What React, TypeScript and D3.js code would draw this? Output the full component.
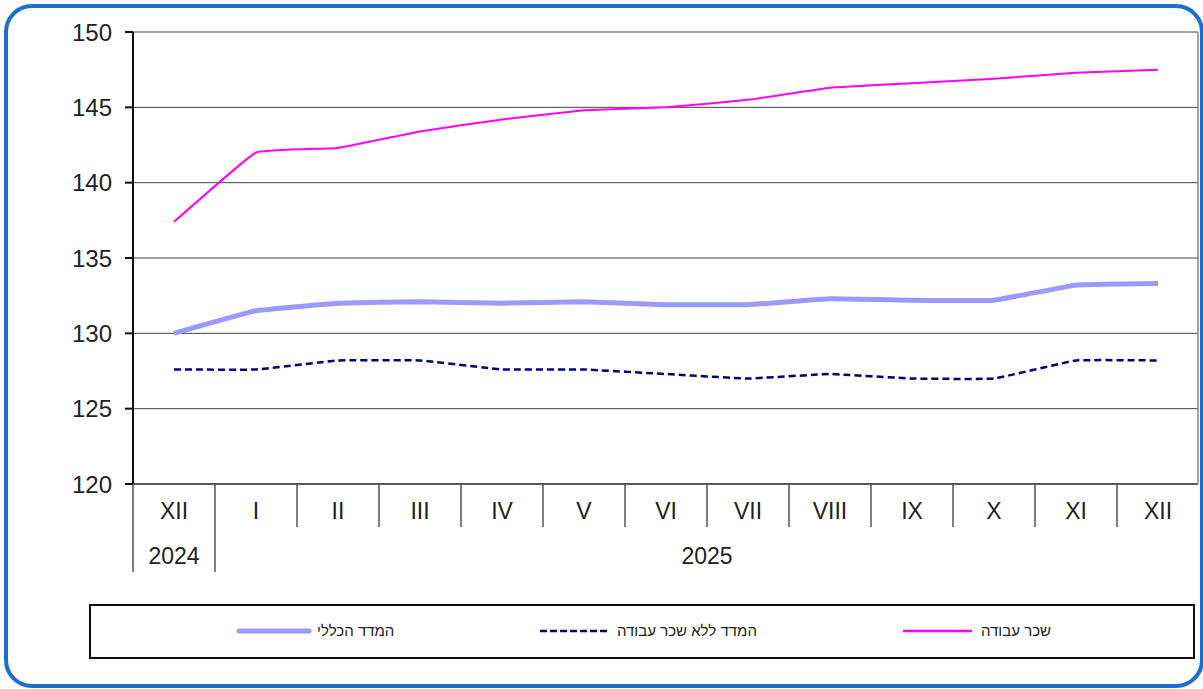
import React from "react";
import * as d3 from "d3";

const months = ["XII", "I", "II", "III", "IV", "V", "VI", "VII", "VIII", "IX", "X", "XI", "XII"];
const years = [
  { label: "2024", from: 0, to: 1 },
  { label: "2025", from: 1, to: 13 },
];
const yTicks = [120, 125, 130, 135, 140, 145, 150];

const wages = [137.4, 142.0, 142.3, 143.4, 144.2, 144.8, 145.0, 145.5, 146.3, 146.6, 146.9, 147.3, 147.5];
const general = [130.0, 131.5, 132.0, 132.1, 132.0, 132.1, 131.9, 131.9, 132.3, 132.2, 132.2, 133.2, 133.3];
const noWages = [127.6, 127.6, 128.2, 128.2, 127.6, 127.6, 127.3, 127.0, 127.3, 127.0, 127.0, 128.2, 128.2];

const seriesNames = {
  general: "המדד הכללי",
  noWages: "המדד ללא שכר עבודה",
  wages: "שכר עבודה",
};

const W = 1203;
const H = 689;
const left = 133;
const right = 1199;
const top = 32;
const bottom = 484;

export default function App() {
  const x = d3.scaleBand<number>().domain(d3.range(months.length)).range([left, right]).padding(0);
  const y = d3.scaleLinear().domain([120, 150]).range([bottom, top]);
  const cx = (i: number) => (x(i) as number) + x.bandwidth() / 2;
  const line = d3
    .line<number>()
    .x((_, i) => cx(i))
    .y((d) => y(d))
    .curve(d3.curveCardinal.tension(0.75));

  const font = "Arial, 'Liberation Sans', sans-serif";
  const boundaries = d3.range(months.length + 1).map((i) => left + i * x.bandwidth());
  const yearEdges = new Set(years.flatMap((yr) => [yr.from]));

  return (
    <div style={{ position: "absolute", left: 0, top: 0 }}>
      <svg width={W} height={H} style={{ display: "block" }}>
        <rect x={0} y={0} width={W} height={H} fill="#fff" />
        <rect x={6} y={6} width={1196} height={680} rx={26} ry={26} fill="none" stroke="#1a6fd0" strokeWidth={4} />

        {/* grid */}
        {yTicks.map((t) => (
          <line key={t} x1={left} x2={right - 1} y1={y(t)} y2={y(t)} stroke={t === 120 ? "#222" : "#444"} strokeWidth={t === 120 ? 1.5 : 1} />
        ))}
        <line x1={right - 1} x2={right - 1} y1={top} y2={bottom} stroke="#888" strokeWidth={1.5} />

        {/* y axis */}
        <line x1={left} x2={left} y1={top} y2={bottom} stroke="#111" strokeWidth={2} />
        {yTicks.map((t) => (
          <g key={"yt" + t}>
            <line x1={left - 8} x2={left} y1={y(t)} y2={y(t)} stroke="#111" strokeWidth={2} />
            <text x={112} y={y(t)} dy="0.36em" textAnchor="end" fontFamily={font} fontSize={24} fill="#222">
              {t}
            </text>
          </g>
        ))}

        {/* x axis category separators */}
        {boundaries.map((bx, i) => (
          <line
            key={"b" + i}
            x1={bx}
            x2={bx}
            y1={bottom}
            y2={yearEdges.has(i) ? 572 : i === months.length ? bottom : 527}
            stroke="#555"
            strokeWidth={1.5}
          />
        ))}
        {months.map((m, i) => (
          <text key={"m" + i} x={cx(i)} y={511} dy="0.36em" textAnchor="middle" fontFamily={font} fontSize={23} fill="#222">
            {m}
          </text>
        ))}
        {years.map((yr) => (
          <text
            key={yr.label}
            x={(left + yr.from * x.bandwidth() + left + yr.to * x.bandwidth()) / 2}
            y={556}
            dy="0.36em"
            textAnchor="middle"
            fontFamily={font}
            fontSize={23}
            fill="#222"
          >
            {yr.label}
          </text>
        ))}

        {/* series */}
        <path d={line(general) || ""} fill="none" stroke="#9999ff" strokeWidth={5} strokeLinejoin="round" />
        <path d={line(noWages) || ""} fill="none" stroke="#000080" strokeWidth={2.5} strokeDasharray="7,4" />
        <path d={line(wages) || ""} fill="none" stroke="#ff00ff" strokeWidth={2} />

        {/* legend */}
        <rect x={90} y={605} width={1104} height={53} fill="#fff" stroke="#111" strokeWidth={2} />
        <line x1={239} x2={309} y1={631} y2={631} stroke="#9999ff" strokeWidth={5} strokeLinecap="round" />
        <text x={317} y={631} dy="0.35em" textAnchor="start" fontFamily={font} fontSize={15} fill="#222">
          {seriesNames.general}
        </text>
        <line x1={540} x2={610} y1={631} y2={631} stroke="#000080" strokeWidth={2.5} strokeDasharray="7,3" />
        <text x={617} y={631} dy="0.35em" textAnchor="start" fontFamily={font} fontSize={15} fill="#222">
          {seriesNames.noWages}
        </text>
        <line x1={903} x2={972} y1={631} y2={631} stroke="#ff00ff" strokeWidth={2.5} />
        <text x={981} y={631} dy="0.35em" textAnchor="start" fontFamily={font} fontSize={15} fill="#222">
          {seriesNames.wages}
        </text>
      </svg>
    </div>
  );
}
